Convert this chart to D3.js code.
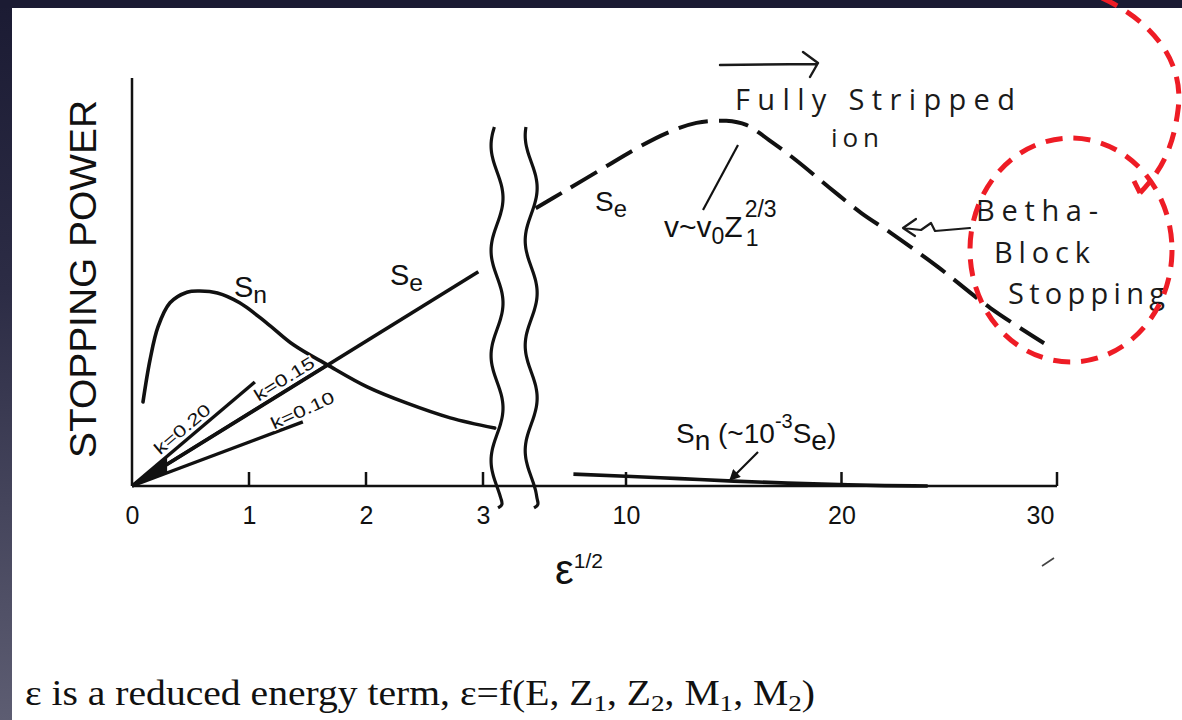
<!DOCTYPE html>
<html>
<head>
<meta charset="utf-8">
<script src="https://cdn.jsdelivr.net/npm/d3@7"></script>
<style>
  html, body { margin: 0; padding: 0; background: #ffffff; }
  svg { display: block; }
</style>
</head>
<body>
<svg id="chart" width="1182" height="720"></svg>
<script>
// ---- Low-energy panel: ε^1/2 from 0 to 3 ----
const lowTicks = [0, 1, 2, 3];
const snLowX = [0.094, 0.154, 0.222, 0.325, 0.47, 0.58, 0.73, 0.92, 1.15, 1.38, 1.67, 2.01, 2.35, 2.72, 3.10];
const snLowY = [20.6, 30.9, 39.0, 44.9, 47.5, 47.8, 47.3, 44.9, 40.0, 34.6, 29.7, 24.3, 20.3, 16.7, 14.2];
const seLowX = [0, 2.96];
const seLowY = [0, 52.5];
const kNames = ["k=0.20", "k=0.15", "k=0.10"];
const kEndX = [1.05, 1.67, 1.46];
const kEndY = [25.5, 29.7, 15.7];
const kLabelAt = [0.49, 1.35, 1.49];

// ---- High-energy panel: ε^1/2 from ~6 to 30 ----
const highTicks = [10, 20, 30];
const seHighX = [5.81, 7.10, 8.94, 10.51, 11.89, 13.27, 14.65, 15.58, 16.64, 17.88, 19.40, 20.92, 22.30, 24.47, 26.91, 29.40];
const seHighY = [68.1, 72.1, 77.9, 82.8, 86.5, 89.0, 89.5, 88.5, 84.8, 79.9, 73.3, 66.9, 62.0, 53.7, 43.6, 35.0];
const snHighX = [7.56, 10, 12.5, 15, 17.5, 20, 22, 24];
const snHighY = [2.9, 2.4, 1.8, 1.2, 0.7, 0.35, 0.1, 0.0];

// axis break positions (in each panel's own units)
const breakLow = 3.12;
const breakHigh = 5.6;

const svg = d3.select("#chart");
const W = 1182, H = 720;

// ---- slide frame ----
const defs = svg.append("defs");
const grad = defs.append("linearGradient").attr("id", "edge").attr("x1", 0).attr("y1", 0).attr("x2", 0).attr("y2", 1);
grad.append("stop").attr("offset", "0%").attr("stop-color", "#1b1b33");
grad.append("stop").attr("offset", "40%").attr("stop-color", "#2c2c45");
grad.append("stop").attr("offset", "100%").attr("stop-color", "#5d5d72");
svg.append("rect").attr("x", 0).attr("y", 0).attr("width", W).attr("height", H).attr("fill", "#ffffff");
svg.append("rect").attr("x", 0).attr("y", 0).attr("width", 12).attr("height", H).attr("fill", "url(#edge)");
svg.append("rect").attr("x", 0).attr("y", 0).attr("width", W).attr("height", 8).attr("fill", "#1b1b33");

// ---- scales ----
const xL = d3.scaleLinear().domain([0, 3]).range([132, 483]);
const xR = d3.scaleLinear().domain([10, 30]).range([626, 1057]);
const y = d3.scaleLinear().domain([0, 100]).range([486, 78]);

const ink = "#111";
const sans = "'Liberation Sans', Arial, Helvetica, sans-serif";
const hand = "'Open Sans', 'DejaVu Sans', sans-serif";

const g = svg.append("g");

// ---- axes ----
g.append("line").attr("x1", xL(0)).attr("x2", xL(0)).attr("y1", y(0)).attr("y2", y(100))
  .attr("stroke", ink).attr("stroke-width", 2.5);
g.append("line").attr("x1", xL(0)).attr("x2", xR(30)).attr("y1", y(0)).attr("y2", y(0))
  .attr("stroke", ink).attr("stroke-width", 2.5);

const axLow = d3.axisBottom(xL).tickValues(lowTicks).tickSize(0).tickPadding(20).tickFormat(d3.format("d"));
const axHigh = d3.axisBottom(xR).tickValues(highTicks).tickSize(0).tickPadding(20).tickFormat(d3.format("d"));
[axLow, axHigh].forEach(ax => {
  const a = g.append("g").attr("transform", `translate(0,${y(0)})`).call(ax);
  a.select(".domain").remove();
  a.selectAll("text").attr("font-family", sans).attr("font-size", 25).attr("fill", ink);
});
// the last label sits just inside the closing tick of the axis
g.selectAll(".tick text").filter(d => d === 30).attr("dx", -17);

// upward tick marks
g.selectAll(".tl").data(lowTicks.slice(1)).join("line")
  .attr("x1", d => xL(d)).attr("x2", d => xL(d)).attr("y1", y(0)).attr("y2", y(0) - 14)
  .attr("stroke", ink).attr("stroke-width", 2.5);
g.selectAll(".th").data(highTicks).join("line")
  .attr("x1", d => xR(d)).attr("x2", d => xR(d)).attr("y1", y(0)).attr("y2", y(0) - 14)
  .attr("stroke", ink).attr("stroke-width", 2.5);

// ---- axis break marks ----
function wavy(cx, phase) {
  const pts = [];
  for (let py = y(88); py <= y(0) + 14; py += 3) {
    pts.push([cx + 6 * Math.sin((py - y(88)) / 105 * 2 * Math.PI + phase), py]);
  }
  const last = pts[pts.length - 1];
  pts.push([last[0] + 2, last[1] + 6], [last[0] - 3, last[1] + 9]);
  return d3.line().curve(d3.curveBasis)(pts);
}
g.append("path").attr("d", wavy(xL(breakLow), 3.6)).attr("fill", "none").attr("stroke", ink).attr("stroke-width", 3.2);
g.append("path").attr("d", wavy(xR(breakHigh), 4.2)).attr("fill", "none").attr("stroke", ink).attr("stroke-width", 3.2);

// ---- curves ----
const lineL = d3.line().x(d => xL(d[0])).y(d => y(d[1]));
const lineR = d3.line().x(d => xR(d[0])).y(d => y(d[1]));

g.append("path").attr("d", lineL.curve(d3.curveCatmullRom.alpha(0.5))(d3.zip(snLowX, snLowY)))
  .attr("fill", "none").attr("stroke", ink).attr("stroke-width", 3.6).attr("stroke-linecap", "round");
g.append("path").attr("d", d3.line().x(d => xL(d[0])).y(d => y(d[1]))(d3.zip(seLowX, seLowY)))
  .attr("fill", "none").attr("stroke", ink).attr("stroke-width", 3.6);
kNames.forEach((k, i) => {
  g.append("path").attr("d", d3.line().x(d => xL(d[0])).y(d => y(d[1]))([[0, 0], [kEndX[i], kEndY[i]]]))
    .attr("fill", "none").attr("stroke", ink).attr("stroke-width", 3.4);
});
// converging wedge at origin
g.append("path").attr("d", d3.line()([[xL(0), y(0)], [xL(0.3), y(0.3 * kEndY[0] / kEndX[0])], [xL(0.3), y(0.3 * kEndY[2] / kEndX[2])]]))
  .attr("fill", ink);

g.append("path").attr("d", lineR.curve(d3.curveCatmullRom.alpha(0.5))(d3.zip(seHighX, seHighY)))
  .attr("fill", "none").attr("stroke", ink).attr("stroke-width", 4).attr("stroke-dasharray", "30,11");
g.append("path").attr("d", d3.line().x(d => xR(d[0])).y(d => y(d[1])).curve(d3.curveMonotoneX)(d3.zip(snHighX, snHighY)))
  .attr("fill", "none").attr("stroke", ink).attr("stroke-width", 3.6);

// ---- k labels along their lines ----
kNames.forEach((k, i) => {
  const sl = kEndY[i] / kEndX[i];
  const ex = kLabelAt[i], ey = ex * sl;
  const px = xL(ex), py = y(ey);
  const ang = Math.atan2(y(0) - y(sl), xL(1) - xL(0));
  const off = 11;
  const cx = px - off * Math.sin(ang), cy = py - off * Math.cos(ang);
  g.append("text").attr("transform", `translate(${cx},${cy}) rotate(${-ang * 180 / Math.PI - (i === 2 ? 4 : 0)})`)
    .attr("text-anchor", "middle").attr("dy", "0.35em")
    .attr("font-family", sans).attr("font-size", 17).attr("textLength", 68).attr("lengthAdjust", "spacingAndGlyphs")
    .attr("fill", ink).attr("stroke", "#fff").attr("stroke-width", 3).attr("paint-order", "stroke")
    .text(k);
});

// ---- curve labels ----
function subLabel(x0, y0, main, sub, size) {
  const t = g.append("text").attr("x", x0).attr("y", y0).attr("font-family", sans).attr("font-size", size).attr("fill", ink);
  t.append("tspan").text(main);
  t.append("tspan").attr("dy", size * 0.22).attr("font-size", size * 0.85).text(sub);
  return t;
}
subLabel(234, 297, "S", "n", 29);
subLabel(390, 285, "S", "e", 29);
subLabel(595, 211, "S", "e", 28);

// v ~ v0 Z1^(2/3)
const vt = g.append("text").attr("x", 664).attr("y", 237).attr("font-family", sans).attr("font-size", 30).attr("fill", ink);
vt.append("tspan").text("v~v");
vt.append("tspan").attr("dy", 7).attr("font-size", 23).text("0");
vt.append("tspan").attr("dy", -7).text("Z");
const vEnd = 664 + vt.node().getComputedTextLength();
g.append("text").attr("x", vEnd + 3).attr("y", 246).attr("font-family", sans).attr("font-size", 23).attr("fill", ink).text("1");
g.append("text").attr("x", vEnd + 2).attr("y", 217).attr("font-family", sans).attr("font-size", 23).attr("fill", ink).text("2/3");
g.append("line").attr("x1", 738).attr("y1", 145).attr("x2", 703).attr("y2", 210).attr("stroke", ink).attr("stroke-width", 2.2);

// Sn (~10^-3 Se)
const st = g.append("text").attr("x", 676).attr("y", 443).attr("font-family", sans).attr("font-size", 28).attr("fill", ink);
st.append("tspan").text("S");
st.append("tspan").attr("dy", 7).text("n");
st.append("tspan").attr("dy", -7).text(" (~10");
st.append("tspan").attr("dy", -15).attr("font-size", 20).text("-3");
st.append("tspan").attr("dy", 15).text("S");
st.append("tspan").attr("dy", 7).text("e");
st.append("tspan").attr("dy", -7).text(")");
defs.append("marker").attr("id", "ah").attr("viewBox", "0 0 10 10").attr("refX", 9).attr("refY", 5)
  .attr("markerWidth", 5).attr("markerHeight", 5).attr("orient", "auto")
  .append("path").attr("d", "M0,0L10,5L0,10Z").attr("fill", ink);
g.append("line").attr("x1", 758).attr("y1", 452).attr("x2", 730).attr("y2", 480)
  .attr("stroke", ink).attr("stroke-width", 2.2).attr("marker-end", "url(#ah)");

// ---- axis titles ----
g.append("text").attr("transform", `translate(96,279) rotate(-90)`).attr("text-anchor", "middle")
  .attr("font-family", sans).attr("font-size", 36).attr("textLength", 358).attr("lengthAdjust", "spacingAndGlyphs")
  .attr("fill", ink).text("STOPPING POWER");
const et = g.append("text").attr("x", 555).attr("y", 584).attr("font-family", sans).attr("font-size", 42).attr("fill", ink);
et.append("tspan").text("ε");
et.append("tspan").attr("dy", -16).attr("font-size", 21).text("1/2");

// ---- caption ----
const cap = g.append("text").attr("x", 25).attr("y", 705).attr("font-family", "'Liberation Serif', 'Times New Roman', serif")
  .attr("font-size", 35).attr("fill", ink).attr("textLength", 790).attr("lengthAdjust", "spacingAndGlyphs");
const capParts = [["ε is a reduced energy term, ε=f(E, Z", 0], ["1", 1], [", Z", 0], ["2", 1], [", M", 0], ["1", 1], [", M", 0], ["2", 1], [")", 0]];
let lastSub = 0;
capParts.forEach(([s, sub]) => {
  const ts = cap.append("tspan").text(s);
  const dy = (sub - lastSub) * 6;
  if (dy) ts.attr("dy", dy);
  if (sub) ts.attr("font-size", 24);
  lastSub = sub;
});

// ---- handwritten notes ----
const pen = "#1a1a1a";
function note(x0, y0, s, len, size) {
  g.append("text").attr("x", x0).attr("y", y0).attr("font-family", hand).attr("font-weight", 400)
    .attr("font-size", size).attr("textLength", len).attr("lengthAdjust", "spacing").attr("fill", pen).text(s);
}
note(735, 110, "Fully Stripped", 280, 29);
note(831, 147, "ion", 48, 26);
note(976, 221, "Betha-", 122, 29);
note(994, 263, "Block", 96, 29);
note(1008, 304, "Stopping", 157, 29);
g.append("path").attr("d", "M720,65L817,64M803,52L818,63L810,77").attr("fill", "none").attr("stroke", pen)
  .attr("stroke-width", 2.4).attr("stroke-linecap", "round").attr("stroke-linejoin", "round");
g.append("path").attr("d", "M970,228L935,231L931,223L921,230L903,228M916,219L903,228L915,236").attr("fill", "none")
  .attr("stroke", pen).attr("stroke-width", 2.2).attr("stroke-linecap", "round").attr("stroke-linejoin", "round");
g.append("path").attr("d", "M1042,566L1054,558").attr("stroke", "#444").attr("stroke-width", 1.6);

// ---- red callouts ----
const red = "#ee1c25";
g.append("ellipse").attr("cx", 1071).attr("cy", 250).attr("rx", 101).attr("ry", 112)
  .attr("fill", "none").attr("stroke", red).attr("stroke-width", 5).attr("stroke-dasharray", "17,11");
g.append("path").attr("d", "M1102,-2C1150,20 1185,60 1178,110C1173,150 1160,172 1140,193M1140,193L1134,181")
  .attr("fill", "none").attr("stroke", red).attr("stroke-width", 5).attr("stroke-dasharray", "17,11");
</script>
</body>
</html>
